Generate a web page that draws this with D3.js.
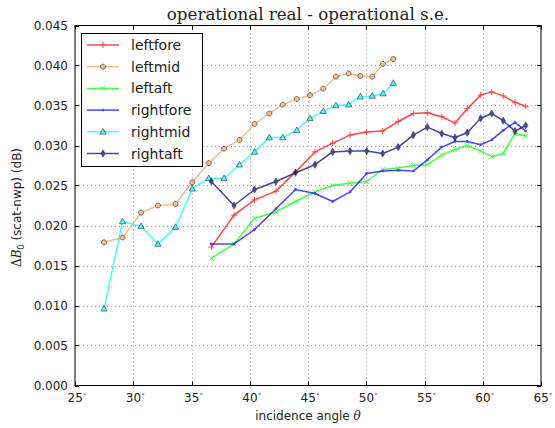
<!DOCTYPE html>
<html>
<head>
<meta charset="utf-8">
<script src="https://cdn.jsdelivr.net/npm/d3@7/dist/d3.min.js"></script>
<style>
  html, body { margin: 0; padding: 0; background: #fff; }
  svg { display: block; font-family: "DejaVu Sans", sans-serif; }
  text { fill: #222; }
</style>
</head>
<body>
<svg id="chart" width="555" height="428"></svg>
<script>
// Incidence angles (degrees) of the mid-beam nodes and of the fore/aft-beam nodes
const midAngles = [27.49, 29.08, 30.67, 32.12, 33.63, 35.07, 36.48, 37.79, 39.12, 40.42, 41.68,
                   42.83, 44.04, 45.17, 46.31, 47.40, 48.48, 49.49, 50.52, 51.44, 52.32];
const foreAftAngles = [36.70, 38.65, 40.41, 42.25, 43.93, 45.60, 47.12, 48.61, 50.04, 51.41, 52.75,
                       54.04, 55.24, 56.48, 57.62, 58.67, 59.82, 60.77, 61.76, 62.77, 63.69];

// Delta B0 (scat - nwp), dB
const leftfore  = [0.0173, 0.0213, 0.0232, 0.0243, 0.0267, 0.0292, 0.0303, 0.0313, 0.0317, 0.0318, 0.0330,
                   0.0340, 0.0341, 0.0336, 0.0328, 0.0346, 0.0363, 0.0367, 0.0362, 0.0354, 0.0349];
const leftmid   = [0.0179, 0.0185, 0.0216, 0.0225, 0.0227, 0.0254, 0.0278, 0.0296, 0.0307, 0.0327, 0.0340,
                   0.0351, 0.0358, 0.0363, 0.0371, 0.0386, 0.0390, 0.0387, 0.0386, 0.0402, 0.0408];
const leftaft   = [0.0159, 0.0177, 0.0209, 0.0217, 0.0230, 0.0242, 0.0250, 0.0253, 0.0255, 0.0270, 0.0272,
                   0.0275, 0.0276, 0.0288, 0.0295, 0.0300, 0.0293, 0.0286, 0.0290, 0.0315, 0.0312];
const rightfore = [0.0177, 0.0177, 0.0195, 0.0221, 0.0245, 0.0240, 0.0230, 0.0242, 0.0265, 0.0268, 0.0269,
                   0.0268, 0.0282, 0.0298, 0.0305, 0.0305, 0.0301, 0.0307, 0.0319, 0.0329, 0.0318];
const rightmid  = [0.0096, 0.0205, 0.0199, 0.0177, 0.0198, 0.0246, 0.0259, 0.0259, 0.0276, 0.0292, 0.0310,
                   0.0310, 0.0319, 0.0334, 0.0343, 0.0350, 0.0351, 0.0361, 0.0362, 0.0365, 0.0378];
const rightaft  = [0.0255, 0.0225, 0.0245, 0.0255, 0.0266, 0.0276, 0.0292, 0.0293, 0.0293, 0.0290, 0.0298,
                   0.0313, 0.0323, 0.0315, 0.0310, 0.0316, 0.0334, 0.0340, 0.0331, 0.0318, 0.0325];

const xTicks = [25, 30, 35, 40, 45, 50, 55, 60, 65];
const yTicks = [0, 0.005, 0.010, 0.015, 0.020, 0.025, 0.030, 0.035, 0.040, 0.045];

const seriesNames = ["leftfore", "leftmid", "leftaft", "rightfore", "rightmid", "rightaft"];
const seriesValues = [leftfore, leftmid, leftaft, rightfore, rightmid, rightaft];
const seriesAngles = [foreAftAngles, midAngles, foreAftAngles, foreAftAngles, midAngles, foreAftAngles];
const seriesColors = ["#ff0000", "#f4a460", "#00ff00", "#0000ff", "#00ffff", "#000080"];
const seriesMarkers = ["plus", "octagon", "cross", "dot", "triangle", "thindiamond"];

const SERIF = "'DejaVu Serif', serif";

const svg = d3.select("#chart");
const plotL = 75, plotR = 541, plotT = 25.5, plotB = 385.5;

const x = d3.scaleLinear().domain([25, 65]).range([plotL, plotR]);
const y = d3.scaleLinear().domain([0, 0.045]).range([plotB, plotT]);

// dotted grid
const grid = svg.append("g");
grid.selectAll("line.gx").data(xTicks.slice(1, -1)).join("line")
  .attr("x1", d => Math.round(x(d)) + 0.5).attr("x2", d => Math.round(x(d)) + 0.5)
  .attr("y1", plotT).attr("y2", plotB)
  .attr("stroke", "#999").attr("stroke-width", 1).attr("stroke-dasharray", "1,3");
grid.selectAll("line.gy").data(yTicks.slice(1, -1)).join("line")
  .attr("y1", d => Math.round(y(d)) + 0.5).attr("y2", d => Math.round(y(d)) + 0.5)
  .attr("x1", plotL).attr("x2", plotR)
  .attr("stroke", "#999").attr("stroke-width", 1).attr("stroke-dasharray", "1,3");

// marker shapes
function markerPath(kind) {
  switch (kind) {
    case "plus": return "M-3,0H3M0,-3V3";
    case "cross": return "M-2.4,-2.4L2.4,2.4M-2.4,2.4L2.4,-2.4";
    case "octagon": {
      const r = 2.6, pts = [];
      for (let i = 0; i < 8; i++) { const a = Math.PI / 8 + i * Math.PI / 4; pts.push([r * Math.cos(a), r * Math.sin(a)]); }
      return "M" + pts.map(p => p.join(",")).join("L") + "Z";
    }
    case "triangle": return "M0,-3.3L3.1,2.3L-3.1,2.3Z";
    case "thindiamond": return "M0,-3.6L2.1,0L0,3.6L-2.1,0Z";
    case "dot": return d3.symbol(d3.symbolCircle, 6)();
  }
}
function drawMarker(g, kind, color) {
  const p = g.append("path").attr("d", markerPath(kind));
  if (kind === "plus" || kind === "cross") {
    p.attr("fill", "none").attr("stroke", color).attr("stroke-width", 1);
  } else if (kind === "dot") {
    p.attr("fill", color).attr("stroke", "none");
  } else {
    p.attr("fill", color).attr("stroke", "#000").attr("stroke-width", 0.7);
  }
  return p;
}

// series lines and markers
const line = d3.line();
const plot = svg.append("g");
seriesNames.forEach((name, i) => {
  const pts = seriesValues[i].map((v, j) => [x(seriesAngles[i][j]), y(v)]);
  const g = plot.append("g").attr("opacity", 0.72);
  g.append("path").attr("d", line(pts)).attr("fill", "none")
    .attr("stroke", seriesColors[i]).attr("stroke-width", 1.5).attr("stroke-linejoin", "round");
  pts.forEach(p => {
    const mg = g.append("g").attr("transform", `translate(${p[0]},${p[1]})`);
    drawMarker(mg, seriesMarkers[i], seriesColors[i]);
  });
});

// frame
svg.append("rect").attr("x", plotL).attr("y", plotT).attr("width", plotR - plotL).attr("height", plotB - plotT)
  .attr("fill", "none").attr("stroke", "#000").attr("stroke-width", 1);

// inward ticks on all four sides
const tk = svg.append("g").attr("stroke", "#000").attr("stroke-width", 1);
xTicks.forEach(t => {
  const px = Math.round(x(t)) + 0.5;
  tk.append("line").attr("x1", px).attr("x2", px).attr("y1", plotB).attr("y2", plotB - 4);
  tk.append("line").attr("x1", px).attr("x2", px).attr("y1", plotT).attr("y2", plotT + 4);
});
yTicks.forEach(t => {
  const py = Math.round(y(t)) + 0.5;
  tk.append("line").attr("y1", py).attr("y2", py).attr("x1", plotL).attr("x2", plotL + 4);
  tk.append("line").attr("y1", py).attr("y2", py).attr("x1", plotR).attr("x2", plotR - 4);
});

// tick labels
svg.append("g").selectAll("text").data(yTicks).join("text")
  .attr("x", plotL - 7).attr("y", d => y(d) + 4.3)
  .attr("text-anchor", "end").attr("font-size", 12)
  .text(d => d3.format(".3f")(d));
const xl = svg.append("g").selectAll("text").data(xTicks).join("text")
  .attr("x", d => x(d) + 2).attr("y", plotB + 16)
  .attr("text-anchor", "middle").attr("font-size", 12);
xl.append("tspan").text(d => d);
xl.append("tspan").attr("font-size", 7).attr("dy", -4).attr("fill", "#555").text("°");

// axis titles
const xt = svg.append("text").attr("x", (plotL + plotR) / 2).attr("y", 420)
  .attr("text-anchor", "middle").attr("font-size", 12);
xt.append("tspan").text("incidence angle ");
xt.append("tspan").style("font-family", SERIF).style("font-style", "italic").text("θ");

const yt = svg.append("text").attr("transform", `translate(21,${(plotT + plotB) / 2 + 2}) rotate(-90)`)
  .attr("text-anchor", "middle").attr("font-size", 12);
yt.append("tspan").style("font-family", SERIF).text("Δ");
yt.append("tspan").style("font-family", SERIF).style("font-style", "italic").text("B");
yt.append("tspan").attr("font-size", 8).attr("dy", 3).text("0");
yt.append("tspan").attr("dy", -3).text(" (scat-nwp) (dB)");

// title
svg.append("text").attr("x", (plotL + plotR) / 2).attr("y", 20)
  .attr("text-anchor", "middle").attr("font-size", 16.7).style("font-family", SERIF)
  .text("operational real - operational s.e.");

// legend
const lg = svg.append("g");
lg.append("rect").attr("x", 81.5).attr("y", 33.5).attr("width", 121).attr("height", 133)
  .attr("fill", "#fff").attr("stroke", "#000").attr("stroke-width", 1);
seriesNames.forEach((name, i) => {
  const ly = 45 + i * 21.7;
  const row = lg.append("g").attr("opacity", 0.72);
  row.append("line").attr("x1", 87).attr("x2", 119).attr("y1", ly).attr("y2", ly)
    .attr("stroke", seriesColors[i]).attr("stroke-width", 1.5);
  const mg = row.append("g").attr("transform", `translate(103,${ly})`);
  drawMarker(mg, seriesMarkers[i], seriesColors[i]);
  lg.append("text").attr("x", 131).attr("y", ly + 5).attr("font-size", 14).text(name);
});
</script>
</body>
</html>
